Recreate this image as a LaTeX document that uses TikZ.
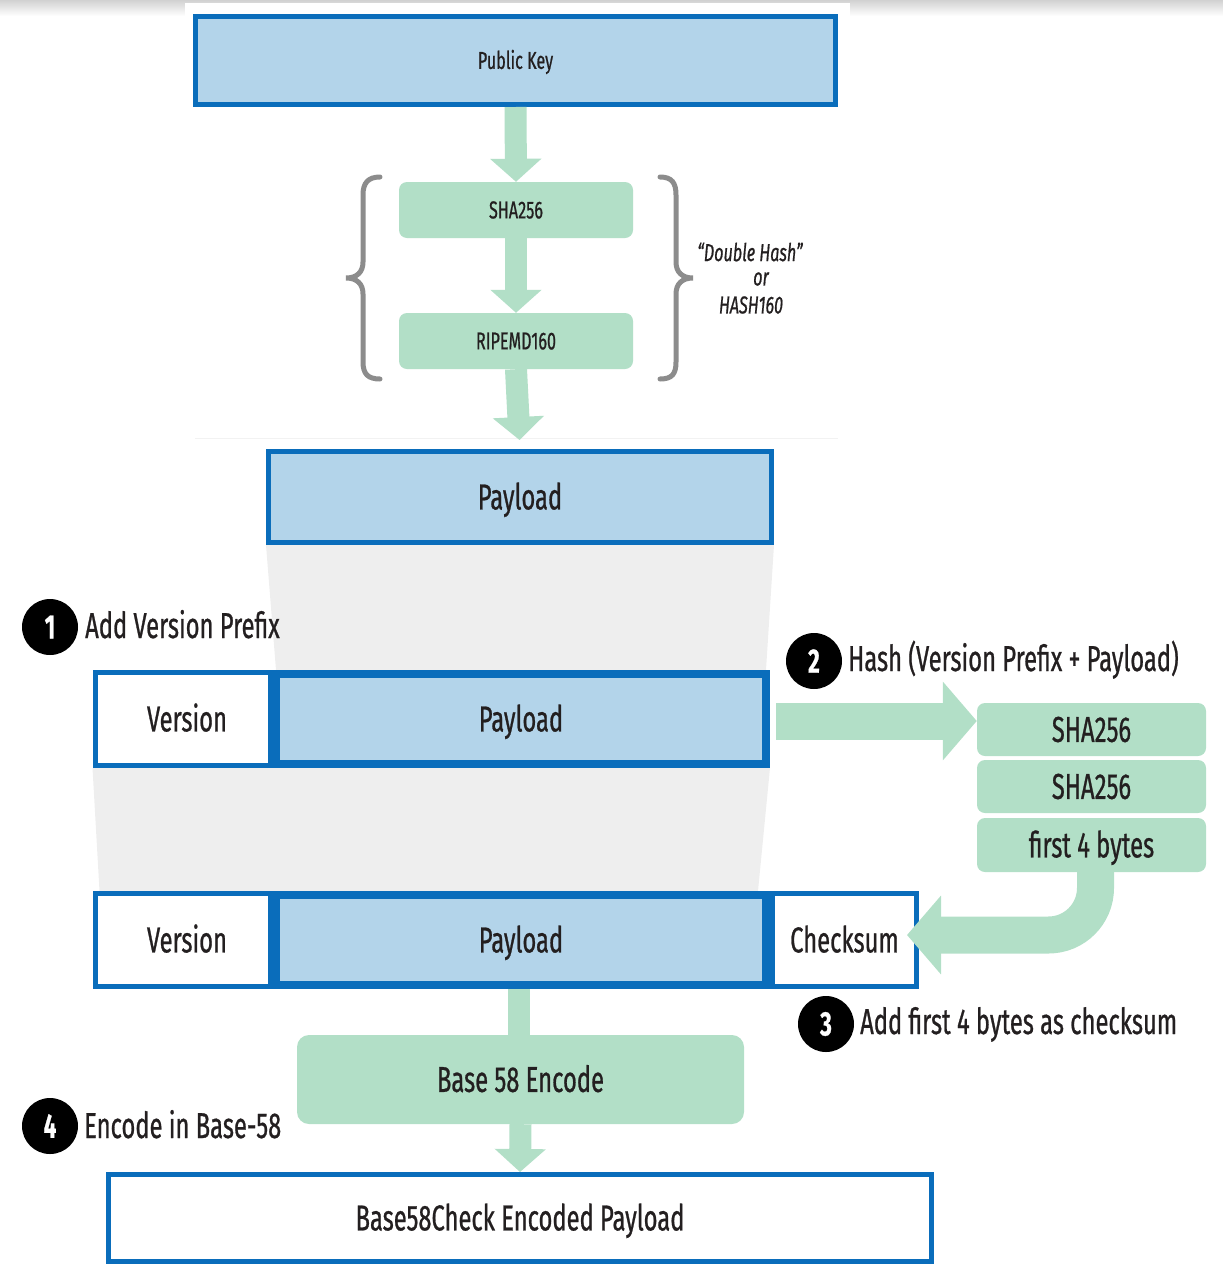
\documentclass[tikz,border=0pt]{standalone}
\usepackage{fontspec}
\setmainfont{Fira Sans}[FakeStretch=0.66,FakeBold=0.7]
\usetikzlibrary{arrows.meta,calc,backgrounds}

\definecolor{bluefill}{HTML}{B3D4EA}
\definecolor{blueline}{HTML}{0A6DBB}
\definecolor{greenfill}{HTML}{B2DFC7}
\definecolor{bracegray}{HTML}{8C8C8C}
\definecolor{bandgray}{HTML}{EEEEEE}
\definecolor{ink}{HTML}{231F20}

\newcommand{\bigtext}{\fontsize{36}{40}\selectfont}
\newcommand{\smalltext}{\fontsize{24.5}{28}\selectfont}

\tikzset{
  box/.style={rectangle, inner sep=0pt, text=ink, font=\bigtext,
    text height=24.8pt, text depth=0pt},
  smallbox/.style={font=\smalltext, text height=16.8pt, text depth=0pt},
  bluebox/.style={box, draw=blueline, fill=bluefill, line width=5pt},
  thickblue/.style={box, draw=blueline, fill=bluefill, line width=8pt},
  whitebox/.style={box, draw=blueline, fill=white, line width=5pt},
  hashbox/.style={box, fill=greenfill, rounded corners=8pt},
  badge/.style={circle, fill=black, text=white, minimum size=56pt,
    inner sep=0pt, font=\fontsize{34}{34}\selectfont\bfseries},
  steplabel/.style={anchor=base west, inner sep=0pt, text=ink, font=\bigtext},
  hashnote/.style={inner sep=0pt, text=ink,
    font=\fontsize{24.5}{28}\selectfont\itshape},
  flow/.style={draw=greenfill, line width=22pt,
    -{Triangle[length=23pt,width=50pt]}},
  bigflow/.style={draw=greenfill, line width=37pt,
    -{Triangle[length=34pt,width=77pt]}},
  brace/.style={draw=bracegray, line width=5pt, line cap=round},
}

\begin{document}
\begin{tikzpicture}[x=1pt,y=-1pt]
\useasboundingbox (0,0) rectangle (1223,1264);

% page backdrop
\shade[top color=black!18, bottom color=white] (0,0) rectangle (1223,16);
\fill[white] (185,3) rectangle (850,438);
\draw[black!5, line width=1pt] (195,438) -- (838,438);

% hashing of the public key
\node[bluebox, smallbox, minimum width=640pt, minimum height=88pt] (pk) at (515.5,60.5) {Public Key};
\node[hashbox, smallbox, minimum width=234pt, minimum height=56pt] (sha) at (516,210) {SHA256};
\node[hashbox, smallbox, minimum width=234pt, minimum height=56pt] (rip) at (516,341) {RIPEMD160};

% braces round the two hashes
\draw[brace] (380,177) .. controls (368,177) and (363,183) .. (363,195) -- (363,262)
  .. controls (363,272) and (357,278) .. (346,278)
  .. controls (357,278) and (363,284) .. (363,294) -- (363,362)
  .. controls (363,374) and (368,379) .. (380,379);
\draw[brace] (660,177) .. controls (672,177) and (676,183) .. (676,195) -- (676,262)
  .. controls (676,272) and (682,278) .. (693,278)
  .. controls (682,278) and (676,284) .. (676,294) -- (676,362)
  .. controls (676,374) and (672,379) .. (660,379);
\node[hashnote] (dh1) at (750,252) {“Double Hash”};
\node[hashnote] (dh2) at (761,279) {or};
\node[hashnote] (dh3) at (751,305) {HASH160};

% payload rows
\node[bluebox, minimum width=503pt, minimum height=91pt] (pay1) at (520,497) {Payload};

\node[whitebox, minimum width=175pt, minimum height=93pt] (ver2) at (182.5,719) {\hspace*{9pt}Version};
\node[thickblue, minimum width=490pt, minimum height=90pt] (pay2) at (521,719) {Payload};

\node[whitebox, minimum width=175pt, minimum height=93pt] (ver3) at (182.5,940) {\hspace*{9pt}Version};
\node[whitebox, minimum width=144pt, minimum height=93pt] (chk) at (844.5,940) {Checksum};
\node[thickblue, minimum width=490pt, minimum height=90pt] (pay3) at (521,940) {Payload};

% checksum hashing stack
\node[hashbox, minimum width=229pt, minimum height=53pt] (h1) at (1091.5,729.5) {SHA256};
\node[hashbox, minimum width=229pt, minimum height=53pt] (h2) at (1091.5,786.5) {SHA256};
\node[hashbox, minimum width=229pt, minimum height=54pt] (h3) at (1091.5,845) {first 4 bytes};

% encoding
\node[hashbox, rounded corners=12pt, minimum width=447pt, minimum height=89pt] (b58) at (520.5,1079.5) {Base 58 Encode};
\node[whitebox, minimum width=823pt, minimum height=87pt] (fin) at (520,1218) {Base58Check Encoded Payload};

% grey widening bands between the rows
\begin{scope}[on background layer]
  \fill[bandgray] (pay1.south west) -- (pay1.south east)
    -- ($(pay2.north east)+(-4,0)$) -- ($(pay2.north west)+(4,0)$) -- cycle;
  \fill[bandgray] (ver2.south west) -- (pay2.south east)
    -- ($(pay3.north east)+(-12,0)$) -- ($(ver3.north west)+(7,0)$) -- cycle;
\end{scope}

% flow arrows
\draw[flow] (pk.south) -- (sha.north);
\draw[flow] (sha.south) -- (rip.north);
\draw[flow, shorten >=9pt] (rip.south) -- (pay1.north);
\coordinate (hs) at ($(pay2.east)+(6,2)$);
\draw[bigflow] (hs) -- (hs -| h1.west);
\draw[bigflow, rounded corners=47pt] ($(h3.south)+(4,0)$) |- ($(chk.east)+(-12,-5)$);
\draw[draw=greenfill, line width=22pt] ($(pay3.south)+(-2,0)$) -- ($(b58.north)+(-1.5,0)$);
\draw[flow] (b58.south) -- (fin.north);

% numbered steps
\node[badge] (s1) at (50,627) {1};
\node[steplabel] (l1) at (85,638) {Add Version Prefix};
\node[badge] (s2) at (814,661) {2};
\node[steplabel] (l2) at (848,671) {Hash (Version Prefix + Payload)};
\node[badge] (s3) at (826,1024) {3};
\node[steplabel] (l3) at (860,1034) {Add first 4 bytes as checksum};
\node[badge] (s4) at (50,1126) {4};
\node[steplabel] (l4) at (84,1138) {Encode in Base-58};
\end{tikzpicture}
\end{document}
